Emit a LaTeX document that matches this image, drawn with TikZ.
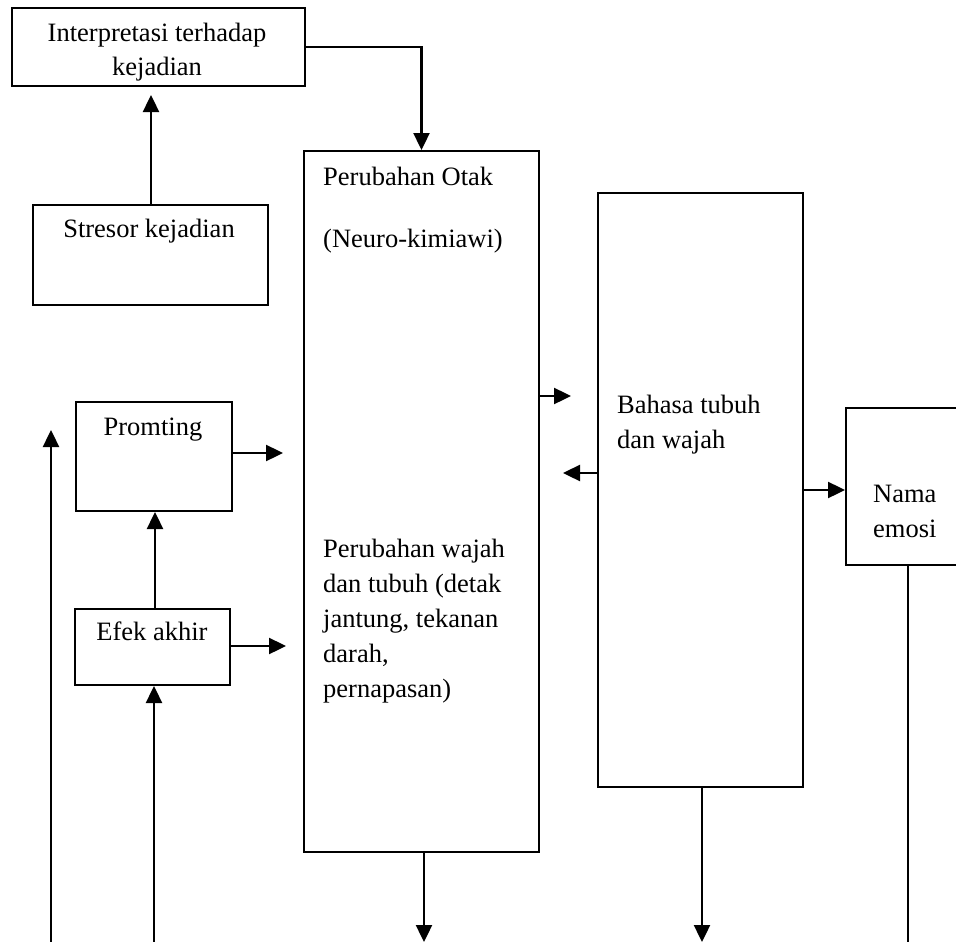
\documentclass[tikz,border=0pt]{standalone}
\usepackage{fontspec}
\setmainfont{Liberation Serif}
\usetikzlibrary{arrows.meta,calc}
\begin{document}
\begin{tikzpicture}[x=1pt,y=-1pt,
  box/.style={draw=black,line width=2pt,inner sep=0pt,anchor=north west},
  txt/.style={inner sep=0pt,font=\fontsize{26.5}{35}\selectfont},
  arr/.style={line width=2.4pt,-{Triangle[length=17pt,width=16pt]}},
  ln/.style={line width=2pt}]
\useasboundingbox (0,0) rectangle (956,942);
% boxes
\node[box,minimum width=293pt,minimum height=78pt] (interp) at (11,7) {};
\node[box,minimum width=235pt,minimum height=100pt] (stres) at (32,204) {};
\node[box,minimum width=235pt,minimum height=701pt] (perub) at (303,150) {};
\node[box,minimum width=205pt,minimum height=594pt] (bahasa) at (597,192) {};
\node[box,minimum width=120pt,minimum height=157pt] (nama) at (845,407) {};
\node[box,minimum width=156pt,minimum height=109pt] (promt) at (75,401) {};
\node[box,minimum width=155pt,minimum height=76pt] (efek) at (74,608) {};
% texts
\node[txt,anchor=base] (t1) at (157,42) {Interpretasi terhadap};
\node[txt,anchor=base] (t2) at (157,75) {kejadian};
\node[txt,anchor=base] (t3) at (149,237) {Stresor kejadian};
\node[txt,anchor=base west] (t4) at (323,185) {Perubahan Otak};
\node[txt,anchor=base west] (t5) at (323,247) {(Neuro-kimiawi)};
\node[txt,anchor=base west] (t6) at (323,557) {Perubahan wajah};
\node[txt,anchor=base west] (t7) at (323,592) {dan tubuh (detak};
\node[txt,anchor=base west] (t8) at (323,627) {jantung, tekanan};
\node[txt,anchor=base west] (t9) at (323,662) {darah,};
\node[txt,anchor=base west] (t10) at (323,697) {pernapasan)};
\node[txt,anchor=base west] (t11) at (617,413) {Bahasa tubuh};
\node[txt,anchor=base west] (t12) at (617,448) {dan wajah};
\node[txt,anchor=base west] (t13) at (873,502) {Nama};
\node[txt,anchor=base west] (t14) at (873,537) {emosi};
\node[txt,anchor=base] (t15) at (153,435) {Promting};
\node[txt,anchor=base] (t16) at (152,640) {Efek akhir};
% free-end coordinates
\coordinate (c1) at (151,95);
\coordinate (c2) at (283,453);
\coordinate (c3) at (286,646);
\coordinate (c4) at (571,396);
\coordinate (c5) at (563,473);
\coordinate (b1) at (424,942);
\coordinate (b2) at (702,942);
\coordinate (b3) at (51,942);
\coordinate (b4) at (51,430);
\coordinate (b5) at (154,942);
\coordinate (b6) at (908,942);
% connectors
\draw[arr] (interp.east) -| (perub.north);
\draw[arr] (stres.north -| c1) -- (c1);
\draw[arr] (promt.east |- c2) -- (c2);
\draw[arr] (efek.east |- c3) -- (c3);
\draw[arr] (efek.north -| 155,0) -- (promt.south -| 155,0);
\draw[arr] (perub.east |- c4) -- (c4);
\draw[arr] (bahasa.west |- c5) -- (c5);
\draw[arr] (bahasa.east) -- (bahasa.east -| nama.west);
\draw[arr] (perub.south -| b1) -- (b1);
\draw[arr] (bahasa.south -| b2) -- (b2);
\draw[arr] (b3) -- (b4);
\draw[arr] (b5) -- (efek.south -| b5);
\draw[ln] (nama.south -| b6) -- (b6);
\end{tikzpicture}
\end{document}
